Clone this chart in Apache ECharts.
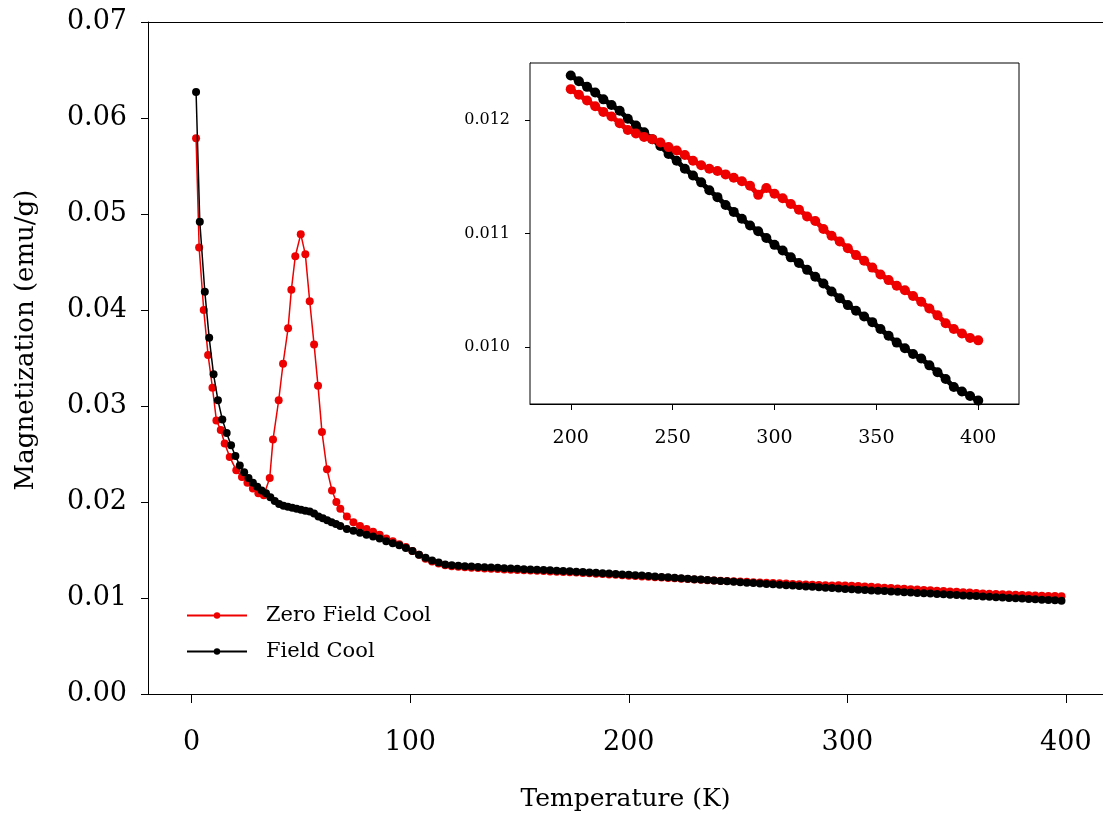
<!DOCTYPE html>
<html>
<head>
<meta charset="utf-8">
<script src="https://cdn.jsdelivr.net/npm/echarts@6/dist/echarts.min.js"></script>
<style>html,body{margin:0;padding:0;background:#fff;}#c{width:1103px;height:818px;}</style>
</head>
<body>
<div id="c"></div>
<script>
// ---------- DATA ----------
const seriesNames = ["Zero Field Cool", "Field Cool"];
const mainXTicks = [0, 100, 200, 300, 400];
const insetXTicks = [200, 250, 300, 350, 400];
const insetYTicks = [0.010, 0.011, 0.012];

// low-temperature part, Zero Field Cool (incl. 50 K peak)
const zfcLowT = [2, 3.4, 5.5, 7.5, 9.5, 11.3, 13.3, 15.1, 17.4, 20.4, 23, 25.5, 28, 30.5, 33, 35.7, 37.2, 39.8, 41.8, 44.1, 45.6, 47.4, 49.9, 52, 54, 56, 57.8, 59.6, 61.9, 64.2, 66.2];
const zfcLowM = [0.0579, 0.0465, 0.0400, 0.0353, 0.0319, 0.0285, 0.0275, 0.0261, 0.0247, 0.0233, 0.0226, 0.0220, 0.0214, 0.0209, 0.0207, 0.0225, 0.0265, 0.0306, 0.0344, 0.0381, 0.0421, 0.0456, 0.0479, 0.0458, 0.0409, 0.0364, 0.0321, 0.0273, 0.0234, 0.0212, 0.0200];

// low-temperature part, Field Cool
const fcLowT = [2, 3.7, 6, 8, 10, 12, 14, 16, 18, 20, 22, 24, 26, 28, 30, 32, 34, 36, 38, 40, 42, 44, 46, 48, 50, 52, 54, 56, 58, 60, 62, 64, 66];
const fcLowM = [0.0627, 0.0492, 0.0419, 0.0371, 0.0333, 0.0306, 0.0286, 0.0272, 0.0259, 0.0248, 0.0238, 0.0231, 0.0225, 0.0220, 0.0216, 0.0212, 0.0209, 0.0205, 0.0201, 0.0198, 0.0196, 0.0195, 0.0194, 0.0193, 0.0192, 0.0191, 0.0190, 0.0188, 0.0185, 0.0183, 0.0181, 0.0179, 0.0177];

// common temperature grid above 68 K (main plot)
const highT = [68, 71, 74, 77, 80, 83, 86, 89, 92, 95, 98, 101, 104, 107,
  110, 113, 116, 119, 122, 125, 128, 131, 134, 137, 140, 143, 146, 149, 152, 155, 158, 161, 164, 167, 170, 173, 176, 179, 182, 185, 188, 191, 194, 197,
  200, 203, 206, 209, 212, 215, 218, 221, 224, 227, 230, 233, 236, 239, 242, 245, 248, 251, 254, 257, 260, 263, 266, 269, 272, 275, 278, 281, 284, 287, 290, 293, 296, 299,
  302, 305, 308, 311, 314, 317, 320, 323, 326, 329, 332, 335, 338, 341, 344, 347, 350, 353, 356, 359, 362, 365, 368, 371, 374, 377, 380, 383, 386, 389, 392, 395, 398];

const zfcHighM = [0.0193, 0.0185, 0.0179, 0.0175, 0.0172, 0.0169, 0.0166, 0.0162, 0.0159, 0.0156, 0.0153, 0.0149, 0.0145, 0.0141,
  0.0138, 0.0136, 0.0134, 0.0133, 0.01325, 0.01320, 0.01316, 0.01312, 0.01308, 0.01305, 0.01302, 0.01298, 0.01295, 0.01292, 0.01289, 0.01286, 0.01283, 0.01280, 0.01277, 0.01274, 0.01271, 0.01268, 0.01265, 0.01261, 0.01257, 0.01253, 0.01249, 0.01245, 0.01241, 0.01237,
  0.01233, 0.01229, 0.01225, 0.01221, 0.01217, 0.01213, 0.01209, 0.01205, 0.01201, 0.01197, 0.01193, 0.01190, 0.01186, 0.01183, 0.01180, 0.01177, 0.01174, 0.01171, 0.01168, 0.01165, 0.01162, 0.01159, 0.01156, 0.01153, 0.01150, 0.01147, 0.01144, 0.01141, 0.01138, 0.01135, 0.01132, 0.01129, 0.01133, 0.01130,
  0.01127, 0.01124, 0.01120, 0.01116, 0.01112, 0.01108, 0.01104, 0.01100, 0.01096, 0.01092, 0.01088, 0.01084, 0.01080, 0.01076, 0.01072, 0.01068, 0.01064, 0.01060, 0.01056, 0.01052, 0.01048, 0.01045, 0.01042, 0.01039, 0.01036, 0.01033, 0.01030, 0.01028, 0.01026, 0.01024, 0.01022, 0.01020, 0.01018];

const fcHighM = [0.0175, 0.0172, 0.0170, 0.0168, 0.0166, 0.0164, 0.0162, 0.0159, 0.0157, 0.0155, 0.0152, 0.0149, 0.0145, 0.0142,
  0.0139, 0.0137, 0.0135, 0.0134, 0.01336, 0.01332, 0.01328, 0.01324, 0.01320, 0.01317, 0.01314, 0.01310, 0.01307, 0.01304, 0.01300, 0.01297, 0.01294, 0.01291, 0.01288, 0.01285, 0.01281, 0.01278, 0.01274, 0.01270, 0.01266, 0.01262, 0.01258, 0.01254, 0.01250, 0.01246,
  0.01242, 0.01238, 0.01234, 0.01229, 0.01224, 0.01220, 0.01215, 0.01210, 0.01206, 0.01201, 0.01196, 0.01192, 0.01187, 0.01183, 0.01178, 0.01174, 0.01169, 0.01165, 0.01160, 0.01156, 0.01151, 0.01147, 0.01143, 0.01138, 0.01134, 0.01129, 0.01125, 0.01120, 0.01116, 0.01111, 0.01107, 0.01103, 0.01098, 0.01094,
  0.01090, 0.01086, 0.01083, 0.01079, 0.01075, 0.01072, 0.01068, 0.01064, 0.01061, 0.01057, 0.01053, 0.01050, 0.01046, 0.01042, 0.01038, 0.01035, 0.01031, 0.01027, 0.01024, 0.01020, 0.01016, 0.01012, 0.01009, 0.01005, 0.01001, 0.00998, 0.00994, 0.00990, 0.00987, 0.00983, 0.00979, 0.00976, 0.00972];

// inset (200-400 K)
const insetT = [200, 204, 208, 212, 216, 220, 224, 228, 232, 236, 240, 244, 248, 252, 256, 260, 264, 268, 272, 276, 280, 284, 288, 292, 296, 300, 304, 308, 312, 316, 320, 324, 328, 332, 336, 340, 344, 348, 352, 356, 360, 364, 368, 372, 376, 380, 384, 388, 392, 396, 400];
const insetFC = [0.01239, 0.01234, 0.01229, 0.01224, 0.01218, 0.01213, 0.01208, 0.01201, 0.01195, 0.01189, 0.01183, 0.01177, 0.01170, 0.01164, 0.01157, 0.01151, 0.01145, 0.01138, 0.01132, 0.01125, 0.01119, 0.01113, 0.01107, 0.01102, 0.01096, 0.01090, 0.01085, 0.01079, 0.01074, 0.01068, 0.01062, 0.01056, 0.01049, 0.01043, 0.01037, 0.01032, 0.01027, 0.01022, 0.01016, 0.01010, 0.01004, 0.00999, 0.00994, 0.00990, 0.00984, 0.00978, 0.00972, 0.00965, 0.00961, 0.00957, 0.00953];
const insetZFC = [0.01227, 0.01222, 0.01217, 0.01212, 0.01207, 0.01203, 0.01197, 0.01191, 0.01188, 0.01185, 0.01183, 0.01180, 0.01176, 0.01173, 0.01169, 0.01164, 0.01160, 0.01157, 0.01155, 0.01152, 0.01149, 0.01146, 0.01142, 0.01134, 0.01140, 0.01135, 0.01131, 0.01126, 0.01121, 0.01115, 0.01111, 0.01104, 0.01098, 0.01093, 0.01087, 0.01081, 0.01076, 0.01070, 0.01064, 0.01059, 0.01054, 0.01050, 0.01045, 0.01040, 0.01034, 0.01028, 0.01021, 0.01016, 0.01012, 0.01008, 0.01006];

// ---------- BUILD ----------
function pairs(t, m) { return t.map((v, i) => [v, m[i]]); }
const zfcMain = pairs(zfcLowT, zfcLowM).concat(pairs(highT, zfcHighM));
const fcMain = pairs(fcLowT, fcLowM).concat(pairs(highT, fcHighM));
const zfcInset = pairs(insetT, insetZFC);
const fcInset = pairs(insetT, insetFC);

const RED = '#ee0000', BLACK = '#000000';
const FONT = '"DejaVu Serif", "Liberation Serif", serif';

const chart = echarts.init(document.getElementById('c'), null, { renderer: 'canvas' });

function lineSeries(name, data, color, xi, size, lw, z) {
  return {
    name: name, type: 'line', xAxisIndex: xi, yAxisIndex: xi, data: data,
    symbol: 'circle', symbolSize: size, showSymbol: true,
    lineStyle: { color: color, width: lw }, itemStyle: { color: color },
    emphasis: { disabled: true }, z: z, animation: false, clip: true
  };
}

chart.setOption({
  animation: false,
  backgroundColor: '#fff',
  textStyle: { fontFamily: FONT, color: '#000' },
  grid: [
    { left: 148, top: 22, right: 0, bottom: 124, show: false },
    { left: 530, top: 63, width: 489, height: 341, show: true, borderColor: '#000', borderWidth: 1, backgroundColor: '#fff', z: 5 }
  ],
  legend: {
    data: seriesNames, orient: 'vertical', left: 186, top: 604, padding: 0,
    itemWidth: 60, itemHeight: 8, itemGap: 13,
    textStyle: { fontFamily: FONT, fontSize: 21, color: '#000', lineHeight: 23, padding: [0, 0, 0, 14] },
    selectedMode: false
  },
  xAxis: [
    {
      type: 'value', gridIndex: 0, min: -20, max: 417, position: 'bottom',
      name: 'Temperature (K)', nameLocation: 'middle', nameGap: 93,
      nameTextStyle: { fontFamily: FONT, fontSize: 25, color: '#000' },
      axisLine: { show: true, onZero: false, lineStyle: { color: '#000', width: 1 } },
      axisTick: { show: true, customValues: mainXTicks, length: 9, inside: false, lineStyle: { color: '#000' } },
      axisLabel: { customValues: mainXTicks, fontFamily: FONT, fontSize: 27, color: '#000', margin: 35 },
      splitLine: { show: false }
    },
    {
      type: 'value', gridIndex: 1, min: 180, max: 420,
      axisLine: { show: true, onZero: false, lineStyle: { color: '#000', width: 1 } },
      axisTick: { show: true, customValues: insetXTicks, length: 6, inside: false, lineStyle: { color: '#000' } },
      axisLabel: { customValues: insetXTicks, fontFamily: FONT, fontSize: 19, color: '#000', margin: 25 },
      splitLine: { show: false }
    },
    {
      type: 'value', gridIndex: 0, min: -20, max: 417, position: 'top',
      axisLine: { show: true, onZero: false, lineStyle: { color: '#000', width: 1 } },
      axisTick: { show: false }, axisLabel: { show: false }, splitLine: { show: false }
    }
  ],
  yAxis: [
    {
      type: 'value', gridIndex: 0, min: 0, max: 0.07, interval: 0.01,
      name: 'Magnetization (emu/g)', nameLocation: 'middle', nameGap: 109,
      nameTextStyle: { fontFamily: FONT, fontSize: 26, color: '#000', padding: [0, 0, 0, 36] },
      axisLine: { show: true, onZero: false, lineStyle: { color: '#000', width: 1 } },
      axisTick: { show: true, length: 7, inside: false, lineStyle: { color: '#000' } },
      axisLabel: { fontFamily: FONT, fontSize: 27, color: '#000', margin: 21, formatter: v => v.toFixed(2) },
      splitLine: { show: false }
    },
    {
      type: 'value', gridIndex: 1, min: 0.0095, max: 0.0125,
      axisLine: { show: true, onZero: false, lineStyle: { color: '#000', width: 1 } },
      axisTick: { show: true, customValues: insetYTicks, length: 5, inside: false, lineStyle: { color: '#000' } },
      axisLabel: { customValues: insetYTicks, fontFamily: FONT, fontSize: 16, color: '#000', margin: 20, formatter: v => v.toFixed(3) },
      splitLine: { show: false }
    }
  ],
  series: [
    lineSeries(seriesNames[0], zfcMain, RED, 0, 8, 1.5, 2),
    lineSeries(seriesNames[1], fcMain, BLACK, 0, 8, 1.5, 3),
    lineSeries(seriesNames[1], fcInset, BLACK, 1, 10, 5, 6),
    lineSeries(seriesNames[0], zfcInset, RED, 1, 10, 5, 7)
  ]
});
</script>
</body>
</html>
